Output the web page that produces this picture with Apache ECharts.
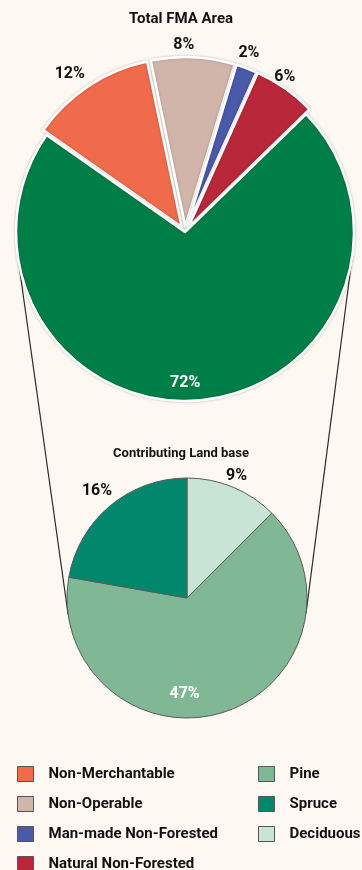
<!DOCTYPE html>
<html>
<head>
<meta charset="utf-8">
<script src="https://cdn.jsdelivr.net/npm/echarts@6/dist/echarts.min.js"></script>
<style>
  html, body { margin: 0; padding: 0; background: #fdf8f1; }
  #chart { width: 362px; height: 870px; }
</style>
</head>
<body>
<div id="chart"></div>
<script>
// Total FMA area, percent of whole
const fmaNames = ['Non-Merchantable', 'Non-Operable', 'Man-made Non-Forested', 'Natural Non-Forested', 'Contributing Land base'];
const fmaValues = [12, 8, 2, 6, 72];
const fmaColors = ['#ef6b4c', '#d2b5aa', '#4a59a8', '#b8283a', '#007e48'];

// Contributing land base split, percent of total FMA area
const clbNames = ['Deciduous', 'Pine', 'Spruce'];
const clbValues = [9, 47, 16];
const clbColors = ['#c8e4d4', '#80b896', '#00876c'];

const legendLeft = ['Non-Merchantable', 'Non-Operable', 'Man-made Non-Forested', 'Natural Non-Forested'];
const legendRight = ['Pine', 'Spruce', 'Deciduous'];

const FONT = "'Roboto', 'Liberation Sans', sans-serif";

// layout of the two pies
const TOP = { cx: 185, cy: 232, r: 169, start: 145 };
const BOT = { cx: 187, cy: 598, r: 120, start: 90 };

const chart = echarts.init(document.getElementById('chart'));

// label-only ring laid on top of a pie, so labels sit at a chosen radius
function labelRing(geo, radii, values, showIdx, color, offsets) {
  return {
    type: 'pie',
    center: [geo.cx, geo.cy],
    radius: radii,
    startAngle: geo.start,
    clockwise: true,
    silent: true,
    z: 5,
    animation: false,
    itemStyle: { color: 'transparent', borderWidth: 0 },
    emphasis: { disabled: true },
    labelLine: { show: false },
    data: values.map((v, i) => ({
      value: v,
      label: {
        show: showIdx.indexOf(i) >= 0,
        position: 'inside',
        formatter: '{c}%',
        color: color,
        fontFamily: FONT,
        fontWeight: 'bold',
        fontSize: 16,
        offset: (offsets && offsets[i]) || [0, 0]
      }
    }))
  };
}

// outer tangent lines joining the two circles
function tangentLines(a, b) {
  const dx = b.cx - a.cx, dy = b.cy - a.cy;
  const d = Math.hypot(dx, dy);
  const ux = dx / d, uy = dy / d;
  const k = (a.r - b.r) / d;
  const h = Math.sqrt(1 - k * k);
  const lines = [];
  [1, -1].forEach(s => {
    // unit normal pointing outward from both circles
    const nx = k * ux - s * h * uy;
    const ny = k * uy + s * h * ux;
    lines.push({
      type: 'line',
      z: 0,
      silent: true,
      shape: {
        x1: a.cx + a.r * nx, y1: a.cy + a.r * ny,
        x2: b.cx + b.r * nx, y2: b.cy + b.r * ny
      },
      style: { stroke: '#2a2a2a', lineWidth: 1.2 }
    });
  });
  return lines;
}

const legendCommon = {
  orient: 'vertical', top: 766, height: 140, padding: 0,
  itemWidth: 16, itemHeight: 15, itemGap: 14,
  icon: 'rect', selectedMode: false,
  itemStyle: { borderColor: '#555', borderWidth: 1 },
  textStyle: { fontFamily: FONT, fontWeight: 'bold', fontSize: 15, color: '#111', padding: [0, 0, 0, 10] }
};

const option = {
  backgroundColor: '#fdf8f1',
  animation: false,
  title: [
    {
      text: 'Total FMA Area', left: 'center', top: 7,
      textStyle: { fontFamily: FONT, fontWeight: 'bold', fontSize: 15, color: '#111' }
    },
    {
      text: 'Contributing Land base', left: 'center', top: 442,
      textStyle: { fontFamily: FONT, fontWeight: 'bold', fontSize: 13, color: '#111' }
    }
  ],
  legend: [
    Object.assign({ data: legendLeft, left: 17 }, legendCommon),
    Object.assign({ data: legendRight, left: 258 }, legendCommon)
  ],
  graphic: tangentLines(TOP, BOT),
  series: [
    {
      type: 'pie',
      name: 'Total FMA Area',
      center: [TOP.cx, TOP.cy],
      radius: [0, TOP.r],
      startAngle: TOP.start,
      clockwise: true,
      selectedMode: 'multiple',
      selectedOffset: 6,
      z: 2,
      label: { show: false },
      labelLine: { show: false },
      emphasis: { disabled: true },
      itemStyle: {
        borderColor: '#ffffff', borderWidth: 2.5,
        shadowBlur: 3, shadowColor: 'rgba(0,0,0,0.2)'
      },
      data: fmaNames.map((n, i) => ({
        name: n,
        value: fmaValues[i],
        selected: i < 4,
        itemStyle: { color: fmaColors[i] }
      }))
    },
    {
      type: 'pie',
      name: 'Contributing Land base',
      center: [BOT.cx, BOT.cy],
      radius: [0, BOT.r],
      startAngle: BOT.start,
      clockwise: true,
      z: 2,
      label: { show: false },
      labelLine: { show: false },
      emphasis: { disabled: true },
      itemStyle: { borderColor: '#5a5a5a', borderWidth: 1 },
      data: clbNames.map((n, i) => ({
        name: n,
        value: clbValues[i],
        itemStyle: { color: clbColors[i] }
      }))
    },
    // value labels
    labelRing(TOP, [180, 200], fmaValues, [0, 1, 2, 3], '#111',
      { 0: [-9, 3], 1: [-10, 6], 2: [-4, 2], 3: [-11, 3] }),
    labelRing(TOP, [130, 166], fmaValues, [4], '#ffffff', { 4: [-12, 0] }),
    labelRing(BOT, [128, 146], clbValues, [0, 2], '#111', { 0: [-4, 7] }),
    labelRing(BOT, [80, 104], clbValues, [1], '#ffffff', { 1: [-31, 5] })
  ]
};

chart.setOption(option);
</script>
</body>
</html>
